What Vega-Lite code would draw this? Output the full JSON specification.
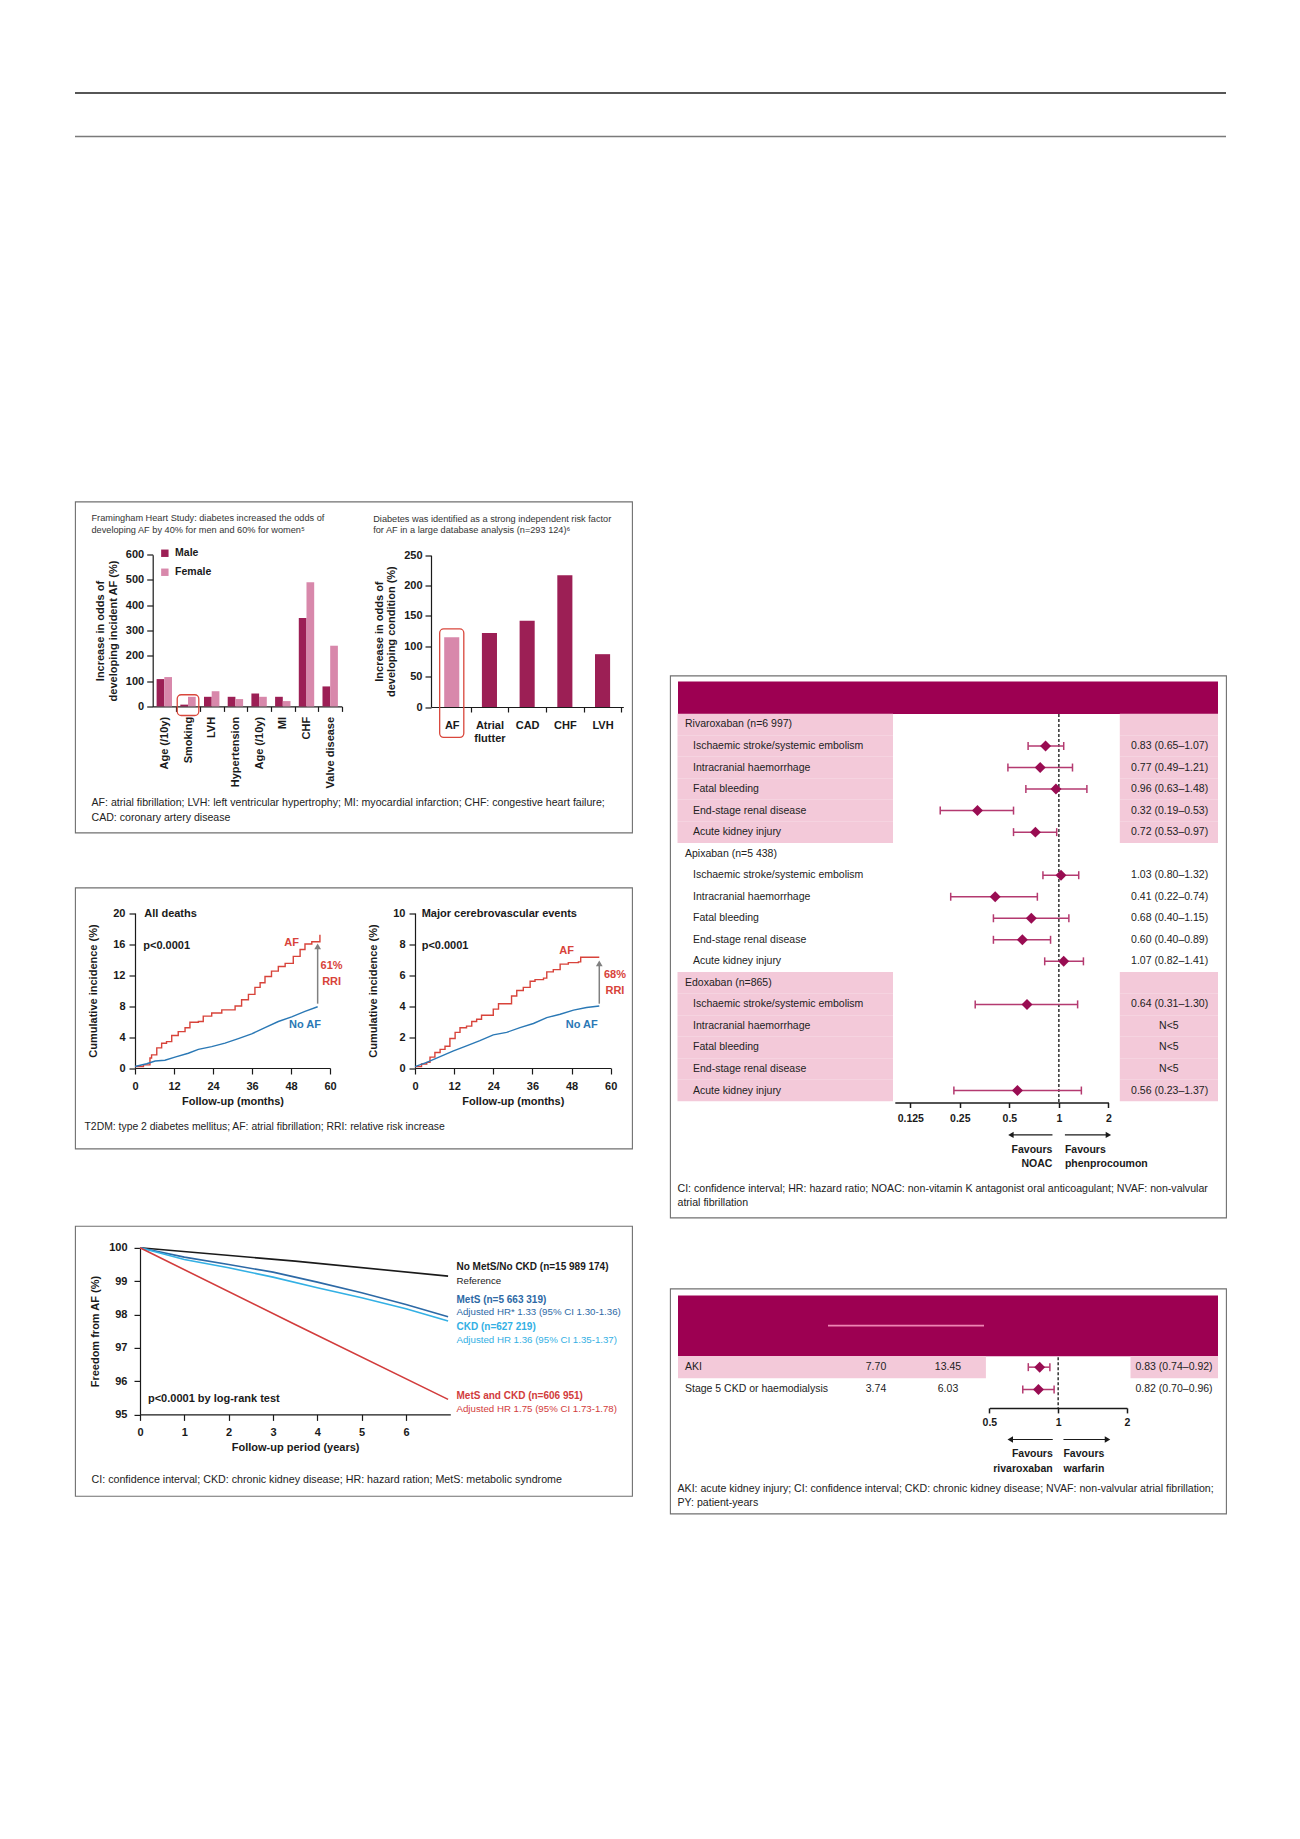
{
"$schema": "https://vega.github.io/schema/vega-lite/v6.json",
"background": "white",
"padding": {"left": 74, "top": 92, "right": 0, "bottom": 0},
"config": {
  "font": "Liberation Sans",
  "view": {"stroke": "#707070", "strokeWidth": 1.1},
  "axis": {"grid": false, "labelFlush": false, "labelOverlap": false, "domainColor": "#1a1a1a", "tickColor": "#1a1a1a", "labelColor": "#1a1a1a", "titleColor": "#1a1a1a", "labelFont": "Liberation Sans", "titleFont": "Liberation Sans", "labelFontWeight": "bold", "labelFontSize": 11, "titleFontWeight": "bold", "titleFontSize": 11, "domainWidth": 1.2, "tickWidth": 1.2, "tickSize": 5, "labelPadding": 4},
  "text": {"fontSize": 10.5, "color": "#1a1a1a", "font": "Liberation Sans"}
},
"datasets": {
  "header_rules": [{"rule": "top"}, {"rule": "bottom"}],
  "framingham": [
    {"factor": "Age (/10y)", "sex": "Male", "pct": 108},
    {"factor": "Age (/10y)", "sex": "Female", "pct": 116},
    {"factor": "Smoking", "sex": "Male", "pct": 7},
    {"factor": "Smoking", "sex": "Female", "pct": 38},
    {"factor": "LVH", "sex": "Male", "pct": 38},
    {"factor": "LVH", "sex": "Female", "pct": 60},
    {"factor": "Hypertension", "sex": "Male", "pct": 38},
    {"factor": "Hypertension", "sex": "Female", "pct": 29},
    {"factor": "Age (/10y)#2", "sex": "Male", "pct": 51},
    {"factor": "Age (/10y)#2", "sex": "Female", "pct": 38},
    {"factor": "MI", "sex": "Male", "pct": 38},
    {"factor": "MI", "sex": "Female", "pct": 21},
    {"factor": "CHF", "sex": "Male", "pct": 350},
    {"factor": "CHF", "sex": "Female", "pct": 491},
    {"factor": "Valve disease", "sex": "Male", "pct": 79},
    {"factor": "Valve disease", "sex": "Female", "pct": 240}
  ],
  "framingham_highlight": [{"factor": "Smoking", "top": 46, "bottom": -36}],
  "database": [
    {"condition": "AF", "pct": 115},
    {"condition": "Atrial flutter", "pct": 122},
    {"condition": "CAD", "pct": 142},
    {"condition": "CHF", "pct": 217},
    {"condition": "LVH", "pct": 87}
  ],
  "database_highlight": [{"condition": "AF", "top": 128.6, "bottom": -50}],
  "km": [
    {"outcome": "All deaths", "group": "AF", "month": 0, "pct": 0.2},
    {"outcome": "All deaths", "group": "AF", "month": 2.6, "pct": 0.4},
    {"outcome": "All deaths", "group": "AF", "month": 4.6, "pct": 1.3},
    {"outcome": "All deaths", "group": "AF", "month": 5.1, "pct": 1.7},
    {"outcome": "All deaths", "group": "AF", "month": 6.7, "pct": 2.6},
    {"outcome": "All deaths", "group": "AF", "month": 8.2, "pct": 3.2},
    {"outcome": "All deaths", "group": "AF", "month": 9.7, "pct": 3.4},
    {"outcome": "All deaths", "group": "AF", "month": 11.3, "pct": 4.2},
    {"outcome": "All deaths", "group": "AF", "month": 13.3, "pct": 4.7},
    {"outcome": "All deaths", "group": "AF", "month": 15.4, "pct": 5.2},
    {"outcome": "All deaths", "group": "AF", "month": 16.9, "pct": 5.9},
    {"outcome": "All deaths", "group": "AF", "month": 19.5, "pct": 6.0},
    {"outcome": "All deaths", "group": "AF", "month": 21, "pct": 6.7},
    {"outcome": "All deaths", "group": "AF", "month": 23.6, "pct": 7.1},
    {"outcome": "All deaths", "group": "AF", "month": 26.7, "pct": 7.5},
    {"outcome": "All deaths", "group": "AF", "month": 30.8, "pct": 8.0},
    {"outcome": "All deaths", "group": "AF", "month": 32.8, "pct": 8.8},
    {"outcome": "All deaths", "group": "AF", "month": 34.9, "pct": 9.5},
    {"outcome": "All deaths", "group": "AF", "month": 36.9, "pct": 10.4},
    {"outcome": "All deaths", "group": "AF", "month": 38.5, "pct": 11.0},
    {"outcome": "All deaths", "group": "AF", "month": 40, "pct": 11.8},
    {"outcome": "All deaths", "group": "AF", "month": 42, "pct": 12.5},
    {"outcome": "All deaths", "group": "AF", "month": 44.1, "pct": 13.1},
    {"outcome": "All deaths", "group": "AF", "month": 46.2, "pct": 13.5},
    {"outcome": "All deaths", "group": "AF", "month": 48.7, "pct": 14.4},
    {"outcome": "All deaths", "group": "AF", "month": 50.8, "pct": 15.3},
    {"outcome": "All deaths", "group": "AF", "month": 52.3, "pct": 16.0},
    {"outcome": "All deaths", "group": "AF", "month": 54.4, "pct": 16.3},
    {"outcome": "All deaths", "group": "AF", "month": 56.9, "pct": 17.2},
    {"outcome": "All deaths", "group": "No AF", "month": 0, "pct": 0.2},
    {"outcome": "All deaths", "group": "No AF", "month": 3.6, "pct": 0.55},
    {"outcome": "All deaths", "group": "No AF", "month": 6.2, "pct": 0.9},
    {"outcome": "All deaths", "group": "No AF", "month": 9.2, "pct": 1.0},
    {"outcome": "All deaths", "group": "No AF", "month": 12.3, "pct": 1.4},
    {"outcome": "All deaths", "group": "No AF", "month": 16.4, "pct": 1.9},
    {"outcome": "All deaths", "group": "No AF", "month": 19.5, "pct": 2.4},
    {"outcome": "All deaths", "group": "No AF", "month": 23.6, "pct": 2.75},
    {"outcome": "All deaths", "group": "No AF", "month": 27.7, "pct": 3.2},
    {"outcome": "All deaths", "group": "No AF", "month": 31.8, "pct": 3.8},
    {"outcome": "All deaths", "group": "No AF", "month": 35.9, "pct": 4.4},
    {"outcome": "All deaths", "group": "No AF", "month": 40, "pct": 5.2},
    {"outcome": "All deaths", "group": "No AF", "month": 44.1, "pct": 6.0},
    {"outcome": "All deaths", "group": "No AF", "month": 48.2, "pct": 6.6},
    {"outcome": "All deaths", "group": "No AF", "month": 52.3, "pct": 7.3},
    {"outcome": "All deaths", "group": "No AF", "month": 56.2, "pct": 7.9},
    {"outcome": "Major cerebrovascular events", "group": "AF", "month": 0, "pct": 0.09},
    {"outcome": "Major cerebrovascular events", "group": "AF", "month": 2, "pct": 0.26},
    {"outcome": "Major cerebrovascular events", "group": "AF", "month": 3.6, "pct": 0.36},
    {"outcome": "Major cerebrovascular events", "group": "AF", "month": 4.6, "pct": 0.7},
    {"outcome": "Major cerebrovascular events", "group": "AF", "month": 6.1, "pct": 1.0},
    {"outcome": "Major cerebrovascular events", "group": "AF", "month": 7.7, "pct": 1.2},
    {"outcome": "Major cerebrovascular events", "group": "AF", "month": 9.2, "pct": 1.4},
    {"outcome": "Major cerebrovascular events", "group": "AF", "month": 10.7, "pct": 1.9},
    {"outcome": "Major cerebrovascular events", "group": "AF", "month": 12.3, "pct": 2.3},
    {"outcome": "Major cerebrovascular events", "group": "AF", "month": 13.8, "pct": 2.6},
    {"outcome": "Major cerebrovascular events", "group": "AF", "month": 15.8, "pct": 2.7},
    {"outcome": "Major cerebrovascular events", "group": "AF", "month": 17.4, "pct": 3.0},
    {"outcome": "Major cerebrovascular events", "group": "AF", "month": 18.9, "pct": 3.15},
    {"outcome": "Major cerebrovascular events", "group": "AF", "month": 20.4, "pct": 3.4},
    {"outcome": "Major cerebrovascular events", "group": "AF", "month": 24, "pct": 3.8},
    {"outcome": "Major cerebrovascular events", "group": "AF", "month": 25.6, "pct": 4.15},
    {"outcome": "Major cerebrovascular events", "group": "AF", "month": 29.6, "pct": 4.65},
    {"outcome": "Major cerebrovascular events", "group": "AF", "month": 31.2, "pct": 5.0},
    {"outcome": "Major cerebrovascular events", "group": "AF", "month": 33.2, "pct": 5.2},
    {"outcome": "Major cerebrovascular events", "group": "AF", "month": 35.3, "pct": 5.6},
    {"outcome": "Major cerebrovascular events", "group": "AF", "month": 36.8, "pct": 5.7},
    {"outcome": "Major cerebrovascular events", "group": "AF", "month": 39.4, "pct": 5.8},
    {"outcome": "Major cerebrovascular events", "group": "AF", "month": 40.4, "pct": 6.2},
    {"outcome": "Major cerebrovascular events", "group": "AF", "month": 42.4, "pct": 6.35},
    {"outcome": "Major cerebrovascular events", "group": "AF", "month": 44.5, "pct": 6.7},
    {"outcome": "Major cerebrovascular events", "group": "AF", "month": 47, "pct": 6.8},
    {"outcome": "Major cerebrovascular events", "group": "AF", "month": 50.1, "pct": 6.85},
    {"outcome": "Major cerebrovascular events", "group": "AF", "month": 50.8, "pct": 7.15},
    {"outcome": "Major cerebrovascular events", "group": "AF", "month": 56.5, "pct": 7.15},
    {"outcome": "Major cerebrovascular events", "group": "No AF", "month": 0, "pct": 0.09},
    {"outcome": "Major cerebrovascular events", "group": "No AF", "month": 3.6, "pct": 0.36},
    {"outcome": "Major cerebrovascular events", "group": "No AF", "month": 7.7, "pct": 0.73},
    {"outcome": "Major cerebrovascular events", "group": "No AF", "month": 11.8, "pct": 1.1},
    {"outcome": "Major cerebrovascular events", "group": "No AF", "month": 15.8, "pct": 1.43},
    {"outcome": "Major cerebrovascular events", "group": "No AF", "month": 19.9, "pct": 1.76},
    {"outcome": "Major cerebrovascular events", "group": "No AF", "month": 24, "pct": 2.14},
    {"outcome": "Major cerebrovascular events", "group": "No AF", "month": 28.1, "pct": 2.3},
    {"outcome": "Major cerebrovascular events", "group": "No AF", "month": 32.2, "pct": 2.6},
    {"outcome": "Major cerebrovascular events", "group": "No AF", "month": 36.3, "pct": 2.87},
    {"outcome": "Major cerebrovascular events", "group": "No AF", "month": 40.4, "pct": 3.25},
    {"outcome": "Major cerebrovascular events", "group": "No AF", "month": 44.5, "pct": 3.47},
    {"outcome": "Major cerebrovascular events", "group": "No AF", "month": 48.6, "pct": 3.73},
    {"outcome": "Major cerebrovascular events", "group": "No AF", "month": 52.6, "pct": 3.9},
    {"outcome": "Major cerebrovascular events", "group": "No AF", "month": 56.5, "pct": 4.0}
  ],
  "km_text": [
    {"outcome": "All deaths", "text": "All deaths", "role": "heading", "month": 2.86, "pct": 19.9},
    {"outcome": "All deaths", "text": "p<0.0001", "role": "heading", "month": 2.55, "pct": 15.8},
    {"outcome": "All deaths", "text": "AF", "role": "AF", "month": 48.2, "pct": 16.1},
    {"outcome": "All deaths", "text": "No AF", "role": "No AF", "month": 52.3, "pct": 5.5},
    {"outcome": "All deaths", "text": "61%", "role": "AF", "month": 60.5, "pct": 13.2},
    {"outcome": "All deaths", "text": "RRI", "role": "AF", "month": 60.5, "pct": 11.1},
    {"outcome": "Major cerebrovascular events", "text": "Major cerebrovascular events", "role": "heading", "month": 2.05, "pct": 9.92},
    {"outcome": "Major cerebrovascular events", "text": "p<0.0001", "role": "heading", "month": 2.05, "pct": 7.87},
    {"outcome": "Major cerebrovascular events", "text": "AF", "role": "AF", "month": 46.5, "pct": 7.57},
    {"outcome": "Major cerebrovascular events", "text": "No AF", "role": "No AF", "month": 51.1, "pct": 2.8},
    {"outcome": "Major cerebrovascular events", "text": "68%", "role": "AF", "month": 61.3, "pct": 6.0},
    {"outcome": "Major cerebrovascular events", "text": "RRI", "role": "AF", "month": 61.3, "pct": 5.0}
  ],
  "km_arrow": [
    {"outcome": "All deaths", "month": 56.2, "from": 8.3, "to": 15.7},
    {"outcome": "Major cerebrovascular events", "month": 56.5, "from": 4.15, "to": 6.75}
  ],
  "mets": [
    {"series": "No MetS/No CKD", "year": 0, "pct": 100},
    {"series": "No MetS/No CKD", "year": 3.5, "pct": 99.6},
    {"series": "No MetS/No CKD", "year": 6.95, "pct": 99.15},
    {"series": "MetS", "year": 0, "pct": 100},
    {"series": "MetS", "year": 1, "pct": 99.72},
    {"series": "MetS", "year": 2, "pct": 99.5},
    {"series": "MetS", "year": 3, "pct": 99.27},
    {"series": "MetS", "year": 4, "pct": 98.97},
    {"series": "MetS", "year": 5, "pct": 98.65},
    {"series": "MetS", "year": 6, "pct": 98.3},
    {"series": "MetS", "year": 6.95, "pct": 97.93},
    {"series": "CKD", "year": 0, "pct": 100},
    {"series": "CKD", "year": 1, "pct": 99.65},
    {"series": "CKD", "year": 2, "pct": 99.4},
    {"series": "CKD", "year": 3, "pct": 99.12},
    {"series": "CKD", "year": 4, "pct": 98.8},
    {"series": "CKD", "year": 5, "pct": 98.5},
    {"series": "CKD", "year": 6, "pct": 98.17},
    {"series": "CKD", "year": 6.95, "pct": 97.8},
    {"series": "MetS and CKD", "year": 0, "pct": 100},
    {"series": "MetS and CKD", "year": 3.5, "pct": 97.7},
    {"series": "MetS and CKD", "year": 6.95, "pct": 95.45}
  ],
  "mets_text": [
    {"series": "No MetS/No CKD", "line": 1, "text": "No MetS/No CKD (n=15 989 174)", "year": 7.14, "pct": 99.41},
    {"series": "No MetS/No CKD", "line": 2, "text": "Reference", "year": 7.14, "pct": 99.01},
    {"series": "MetS", "line": 1, "text": "MetS (n=5 663 319)", "year": 7.14, "pct": 98.44},
    {"series": "MetS", "line": 2, "text": "Adjusted HR* 1.33 (95% CI 1.30-1.36)", "year": 7.14, "pct": 98.06},
    {"series": "CKD", "line": 1, "text": "CKD (n=627 219)", "year": 7.14, "pct": 97.61},
    {"series": "CKD", "line": 2, "text": "Adjusted HR 1.36 (95% CI 1.35-1.37)", "year": 7.14, "pct": 97.23},
    {"series": "MetS and CKD", "line": 1, "text": "MetS and CKD (n=606 951)", "year": 7.14, "pct": 95.56},
    {"series": "MetS and CKD", "line": 2, "text": "Adjusted HR 1.75 (95% CI 1.73-1.78)", "year": 7.14, "pct": 95.16}
  ],
  "mets_p": [{"text": "p<0.0001 by log-rank test", "year": 0.18, "pct": 95.45}],
  "table_parts": [{"part": "title bar"}],
  "underline": [{"part": "column group rule"}],
  "ref1": [{"hr": 1}],
  "forest": [
    {"row": "r01", "drug": "Rivaroxaban", "kind": "group", "label": "Rivaroxaban (n=6 997)"},
    {"row": "r02", "drug": "Rivaroxaban", "kind": "outcome", "label": "Ischaemic stroke/systemic embolism", "hr": 0.83, "lo": 0.65, "hi": 1.07, "ci": "0.83 (0.65–1.07)"},
    {"row": "r03", "drug": "Rivaroxaban", "kind": "outcome", "label": "Intracranial haemorrhage", "hr": 0.77, "lo": 0.49, "hi": 1.21, "ci": "0.77 (0.49–1.21)"},
    {"row": "r04", "drug": "Rivaroxaban", "kind": "outcome", "label": "Fatal bleeding", "hr": 0.96, "lo": 0.63, "hi": 1.48, "ci": "0.96 (0.63–1.48)"},
    {"row": "r05", "drug": "Rivaroxaban", "kind": "outcome", "label": "End-stage renal disease", "hr": 0.32, "lo": 0.19, "hi": 0.53, "ci": "0.32 (0.19–0.53)"},
    {"row": "r06", "drug": "Rivaroxaban", "kind": "outcome", "label": "Acute kidney injury", "hr": 0.72, "lo": 0.53, "hi": 0.97, "ci": "0.72 (0.53–0.97)"},
    {"row": "r07", "drug": "Apixaban", "kind": "group", "label": "Apixaban (n=5 438)"},
    {"row": "r08", "drug": "Apixaban", "kind": "outcome", "label": "Ischaemic stroke/systemic embolism", "hr": 1.03, "lo": 0.80, "hi": 1.32, "ci": "1.03 (0.80–1.32)"},
    {"row": "r09", "drug": "Apixaban", "kind": "outcome", "label": "Intracranial haemorrhage", "hr": 0.41, "lo": 0.22, "hi": 0.74, "ci": "0.41 (0.22–0.74)"},
    {"row": "r10", "drug": "Apixaban", "kind": "outcome", "label": "Fatal bleeding", "hr": 0.68, "lo": 0.40, "hi": 1.15, "ci": "0.68 (0.40–1.15)"},
    {"row": "r11", "drug": "Apixaban", "kind": "outcome", "label": "End-stage renal disease", "hr": 0.60, "lo": 0.40, "hi": 0.89, "ci": "0.60 (0.40–0.89)"},
    {"row": "r12", "drug": "Apixaban", "kind": "outcome", "label": "Acute kidney injury", "hr": 1.07, "lo": 0.82, "hi": 1.41, "ci": "1.07 (0.82–1.41)"},
    {"row": "r13", "drug": "Edoxaban", "kind": "group", "label": "Edoxaban (n=865)"},
    {"row": "r14", "drug": "Edoxaban", "kind": "outcome", "label": "Ischaemic stroke/systemic embolism", "hr": 0.64, "lo": 0.31, "hi": 1.30, "ci": "0.64 (0.31–1.30)"},
    {"row": "r15", "drug": "Edoxaban", "kind": "outcome", "label": "Intracranial haemorrhage", "ci": "N<5"},
    {"row": "r16", "drug": "Edoxaban", "kind": "outcome", "label": "Fatal bleeding", "ci": "N<5"},
    {"row": "r17", "drug": "Edoxaban", "kind": "outcome", "label": "End-stage renal disease", "ci": "N<5"},
    {"row": "r18", "drug": "Edoxaban", "kind": "outcome", "label": "Acute kidney injury", "hr": 0.56, "lo": 0.23, "hi": 1.37, "ci": "0.56 (0.23–1.37)"}
  ],
  "favours_noac": [
    {"line1": "Favours", "line2": "NOAC", "from": 0.914, "to": 0.511},
    {"line1": "Favours", "line2": "phenprocoumon", "from": 1.088, "to": 2.0}
  ],
  "riva_warf": [
    {"row": "AKI", "label": "AKI", "Rivaroxaban": 7.70, "Warfarin": 13.45, "hr": 0.83, "lo": 0.74, "hi": 0.92, "ci": "0.83 (0.74–0.92)"},
    {"row": "Stage 5 CKD or haemodialysis", "label": "Stage 5 CKD or haemodialysis", "Rivaroxaban": 3.74, "Warfarin": 6.03, "hr": 0.82, "lo": 0.70, "hi": 0.96, "ci": "0.82 (0.70–0.96)"}
  ],
  "favours_warf": [
    {"line1": "Favours", "line2": "rivaroxaban", "from": 0.947, "to": 0.617},
    {"line1": "Favours", "line2": "warfarin", "from": 1.055, "to": 1.645}
  ]
},
"spacing": 362.5,
"vconcat": [
  {
    "width": 1151, "height": 43.5, "view": {"stroke": null},
    "data": {"name": "header_rules"},
    "mark": {"type": "rule", "strokeWidth": 1.3},
    "encoding": {
      "y": {"field": "rule", "type": "nominal", "scale": {"type": "point", "domain": ["top", "bottom"], "range": [0, 43.5], "padding": 0}, "axis": null},
      "color": {"field": "rule", "type": "nominal", "scale": {"domain": ["top", "bottom"], "range": ["#1e1e1e", "#7a7a7a"]}, "legend": null}
    }
  },
  {
    "hconcat": [
      {
        "vconcat": [
          {
            "vconcat": [
              {
                "width": 557, "height": 331,
                "resolve": {"scale": {"x": "independent", "y": "independent", "color": "independent"}, "axis": {"x": "independent", "y": "independent"}, "legend": {"color": "independent"}},
                "layer": [
                  {
                    "data": {"name": "framingham"},
                    "mark": {"type": "bar"},
                    "encoding": {
                      "x": {"field": "factor", "type": "nominal",
                        "scale": {"type": "band", "domain": ["Age (/10y)", "Smoking", "LVH", "Hypertension", "Age (/10y)#2", "MI", "CHF", "Valve disease"], "range": [77.7, 266.8], "paddingInner": 0.35, "paddingOuter": 0.165},
                        "axis": {"orient": "bottom", "offset": -126.1, "labelAngle": -90, "labelAlign": "right", "labelBaseline": "middle", "labelPadding": 5, "tickSize": 5, "bandPosition": 1, "tickOffset": 4.15, "labelOffset": -4.15, "labelExpr": "replace(datum.label, '#2', '')",
                          "title": ["AF: atrial fibrillation; LVH: left ventricular hypertrophy; MI: myocardial infarction; CHF: congestive heart failure;", "CAD: coronary artery disease"],
                          "titleX": 16, "titleY": 99.2, "titleAlign": "left", "titleAngle": 0, "titleBaseline": "alphabetic", "titleFontWeight": "normal", "titleFontSize": 10.6, "titleLineHeight": 15, "titleColor": "#222222"}},
                      "xOffset": {"field": "sex", "type": "nominal", "scale": {"domain": ["Male", "Female"]}},
                      "y": {"field": "pct", "type": "quantitative", "stack": null,
                        "scale": {"domain": [0, 600], "range": [204.9, 53.2], "nice": false},
                        "axis": {"orient": "left", "offset": -77.7, "values": [0, 100, 200, 300, 400, 500, 600], "tickSize": 6, "labelPadding": 3, "title": ["Increase in odds of", "developing incident AF (%)"], "titlePadding": 7, "titleLineHeight": 12.5}},
                      "color": {"field": "sex", "type": "nominal", "scale": {"domain": ["Male", "Female"], "range": ["#9c1f55", "#d888ab"]},
                        "legend": {"orient": "none", "legendX": 84.6, "legendY": 46.5, "title": null, "symbolType": "square", "symbolSize": 55, "labelFontSize": 10.5, "labelFontWeight": "bold", "labelColor": "#1a1a1a", "rowPadding": 8, "labelOffset": 5, "padding": 0}}
                    }
                  },
                  {
                    "data": {"name": "framingham_highlight"},
                    "mark": {"type": "bar", "width": {"band": 1.4}, "fill": "transparent", "stroke": "#d9473c", "strokeWidth": 1.3, "cornerRadius": 4},
                    "encoding": {
                      "x": {"field": "factor", "type": "nominal",
                        "scale": {"type": "band", "domain": ["Age (/10y)", "Smoking", "LVH", "Hypertension", "Age (/10y)#2", "MI", "CHF", "Valve disease"], "range": [77.7, 266.8], "paddingInner": 0.35, "paddingOuter": 0.165},
                        "axis": {"orient": "top", "domain": false, "ticks": false, "labels": false,
                          "title": ["Framingham Heart Study: diabetes increased the odds of", "developing AF by 40% for men and 60% for women⁵"],
                          "titleX": 16, "titleY": 19, "titleAlign": "left", "titleAngle": 0, "titleBaseline": "alphabetic", "titleFontWeight": "normal", "titleFontSize": 9.2, "titleLineHeight": 11.5, "titleColor": "#333333"}},
                      "y": {"field": "top", "type": "quantitative", "scale": {"domain": [0, 600], "range": [204.9, 53.2], "nice": false}, "axis": null},
                      "y2": {"field": "bottom"}
                    }
                  },
                  {
                    "data": {"name": "database"},
                    "mark": {"type": "bar"},
                    "encoding": {
                      "x": {"field": "condition", "type": "nominal",
                        "scale": {"type": "band", "domain": ["AF", "Atrial flutter", "CAD", "CHF", "LVH"], "range": [356, 548.3], "paddingInner": 0.6, "paddingOuter": 0.35},
                        "axis": {"orient": "bottom", "offset": -125.5, "labelAngle": 0, "labelAlign": "center", "labelBaseline": "top", "labelPadding": 7, "tickSize": 5, "bandPosition": 1, "tickOffset": 11.3, "labelOffset": -11.3, "labelLineHeight": 13,
                          "labelExpr": "datum.label == 'Atrial flutter' ? ['Atrial', 'flutter'] : datum.label", "title": null}},
                      "y": {"field": "pct", "type": "quantitative",
                        "scale": {"domain": [0, 250], "range": [205.5, 53.7], "nice": false},
                        "axis": {"orient": "left", "offset": -356, "values": [0, 50, 100, 150, 200, 250], "tickSize": 6, "labelPadding": 3, "title": ["Increase in odds of", "developing condition (%)"], "titlePadding": 7, "titleLineHeight": 12.5}},
                      "color": {"field": "condition", "type": "nominal", "scale": {"domain": ["AF", "Atrial flutter", "CAD", "CHF", "LVH"], "range": ["#d888ab", "#9c1f55", "#9c1f55", "#9c1f55", "#9c1f55"]}, "legend": null}
                    }
                  },
                  {
                    "data": {"name": "database_highlight"},
                    "mark": {"type": "bar", "width": {"band": 1.6}, "fill": "transparent", "stroke": "#d9473c", "strokeWidth": 1.3, "cornerRadius": 4},
                    "encoding": {
                      "x": {"field": "condition", "type": "nominal",
                        "scale": {"type": "band", "domain": ["AF", "Atrial flutter", "CAD", "CHF", "LVH"], "range": [356, 548.3], "paddingInner": 0.6, "paddingOuter": 0.35},
                        "axis": {"orient": "top", "domain": false, "ticks": false, "labels": false,
                          "title": ["Diabetes was identified as a strong independent risk factor", "for AF in a large database analysis (n=293 124)⁶"],
                          "titleX": 297.7, "titleY": 19.5, "titleAlign": "left", "titleAngle": 0, "titleBaseline": "alphabetic", "titleFontWeight": "normal", "titleFontSize": 9.2, "titleLineHeight": 11.5, "titleColor": "#333333"}},
                      "y": {"field": "top", "type": "quantitative", "scale": {"domain": [0, 250], "range": [205.5, 53.7], "nice": false}, "axis": null},
                      "y2": {"field": "bottom"}
                    }
                  }
                ]
              },
              {
                "width": 557, "height": 261,
                "resolve": {"scale": {"x": "independent", "y": "independent", "color": "independent"}, "axis": {"x": "independent", "y": "independent"}},
                "layer": [
                  {
                    "data": {"name": "km"},
                    "transform": [{"filter": "datum.outcome == 'All deaths' && datum.group == 'AF'"}],
                    "mark": {"type": "line", "interpolate": "step-after", "strokeWidth": 1.4, "color": "#d8433a"},
                    "encoding": {
                      "x": {"field": "month", "type": "quantitative", "scale": {"domain": [0, 60], "range": [60, 255], "nice": false, "zero": false},
                        "axis": {"orient": "bottom", "offset": -80.5, "values": [0, 12, 24, 36, 48, 60], "tickSize": 6, "labelPadding": 6, "title": "Follow-up (months)", "titlePadding": 4}},
                      "y": {"field": "pct", "type": "quantitative", "scale": {"domain": [0, 20], "range": [180.5, 25.5], "nice": false, "zero": false},
                        "axis": {"orient": "left", "offset": -60, "values": [0, 4, 8, 12, 16, 20], "tickSize": 6, "labelPadding": 4, "title": "Cumulative incidence (%)", "titlePadding": 14}}
                    }
                  },
                  {
                    "data": {"name": "km"},
                    "transform": [{"filter": "datum.outcome == 'All deaths' && datum.group == 'No AF'"}],
                    "mark": {"type": "line", "strokeWidth": 1.4, "color": "#2a78b5"},
                    "encoding": {
                      "x": {"field": "month", "type": "quantitative", "scale": {"domain": [0, 60], "range": [60, 255], "nice": false, "zero": false}, "axis": null},
                      "y": {"field": "pct", "type": "quantitative", "scale": {"domain": [0, 20], "range": [180.5, 25.5], "nice": false, "zero": false}, "axis": null}
                    }
                  },
                  {
                    "data": {"name": "km_text"},
                    "transform": [{"filter": "datum.outcome == 'All deaths'"}],
                    "mark": {"type": "text", "fontWeight": "bold", "fontSize": 11, "baseline": "middle", "align": {"expr": "datum.role == 'heading' ? 'left' : 'center'"}},
                    "encoding": {
                      "x": {"field": "month", "type": "quantitative", "scale": {"domain": [0, 60], "range": [60, 255], "nice": false, "zero": false},
                        "axis": {"orient": "bottom", "domain": false, "ticks": false, "labels": false, "title": "T2DM: type 2 diabetes mellitus; AF: atrial fibrillation; RRI: relative risk increase",
                          "titleX": 9, "titleY": -19.5, "titleAlign": "left", "titleAngle": 0, "titleBaseline": "alphabetic", "titleFontWeight": "normal", "titleFontSize": 10.4, "titleColor": "#222222"}},
                      "y": {"field": "pct", "type": "quantitative", "scale": {"domain": [0, 20], "range": [180.5, 25.5], "nice": false, "zero": false}, "axis": null},
                      "text": {"field": "text"},
                      "color": {"field": "role", "type": "nominal", "scale": {"domain": ["heading", "AF", "No AF"], "range": ["#1a1a1a", "#d8433a", "#2a78b5"]}, "legend": null}
                    }
                  },
                  {
                    "data": {"name": "km_arrow"},
                    "transform": [{"filter": "datum.outcome == 'All deaths'"}],
                    "encoding": {"x": {"field": "month", "type": "quantitative", "scale": {"domain": [0, 60], "range": [60, 255], "nice": false, "zero": false}, "axis": null}},
                    "layer": [
                      {"mark": {"type": "rule", "color": "#808080", "strokeWidth": 1.5},
                       "encoding": {"y": {"field": "from", "type": "quantitative", "scale": {"domain": [0, 20], "range": [180.5, 25.5], "nice": false, "zero": false}, "axis": null}, "y2": {"field": "to"}}},
                      {"mark": {"type": "point", "shape": "triangle-up", "filled": true, "size": 45, "color": "#808080", "opacity": 1},
                       "encoding": {"y": {"field": "to", "type": "quantitative", "scale": {"domain": [0, 20], "range": [180.5, 25.5], "nice": false, "zero": false}, "axis": null}}}
                    ]
                  },
                  {
                    "data": {"name": "km"},
                    "transform": [{"filter": "datum.outcome == 'Major cerebrovascular events' && datum.group == 'AF'"}],
                    "mark": {"type": "line", "interpolate": "step-after", "strokeWidth": 1.4, "color": "#d8433a"},
                    "encoding": {
                      "x": {"field": "month", "type": "quantitative", "scale": {"domain": [0, 60], "range": [340, 535.7], "nice": false, "zero": false},
                        "axis": {"orient": "bottom", "offset": -80.5, "values": [0, 12, 24, 36, 48, 60], "tickSize": 6, "labelPadding": 6, "title": "Follow-up (months)", "titlePadding": 4}},
                      "y": {"field": "pct", "type": "quantitative", "scale": {"domain": [0, 10], "range": [180.5, 25.5], "nice": false, "zero": false},
                        "axis": {"orient": "left", "offset": -340, "values": [0, 2, 4, 6, 8, 10], "tickSize": 6, "labelPadding": 4, "title": "Cumulative incidence (%)", "titlePadding": 14}}
                    }
                  },
                  {
                    "data": {"name": "km"},
                    "transform": [{"filter": "datum.outcome == 'Major cerebrovascular events' && datum.group == 'No AF'"}],
                    "mark": {"type": "line", "strokeWidth": 1.4, "color": "#2a78b5"},
                    "encoding": {
                      "x": {"field": "month", "type": "quantitative", "scale": {"domain": [0, 60], "range": [340, 535.7], "nice": false, "zero": false}, "axis": null},
                      "y": {"field": "pct", "type": "quantitative", "scale": {"domain": [0, 10], "range": [180.5, 25.5], "nice": false, "zero": false}, "axis": null}
                    }
                  },
                  {
                    "data": {"name": "km_text"},
                    "transform": [{"filter": "datum.outcome == 'Major cerebrovascular events'"}],
                    "mark": {"type": "text", "fontWeight": "bold", "fontSize": 11, "baseline": "middle", "align": {"expr": "datum.role == 'heading' ? 'left' : 'center'"}},
                    "encoding": {
                      "x": {"field": "month", "type": "quantitative", "scale": {"domain": [0, 60], "range": [340, 535.7], "nice": false, "zero": false}, "axis": null},
                      "y": {"field": "pct", "type": "quantitative", "scale": {"domain": [0, 10], "range": [180.5, 25.5], "nice": false, "zero": false}, "axis": null},
                      "text": {"field": "text"},
                      "color": {"field": "role", "type": "nominal", "scale": {"domain": ["heading", "AF", "No AF"], "range": ["#1a1a1a", "#d8433a", "#2a78b5"]}, "legend": null}
                    }
                  },
                  {
                    "data": {"name": "km_arrow"},
                    "transform": [{"filter": "datum.outcome == 'Major cerebrovascular events'"}],
                    "encoding": {"x": {"field": "month", "type": "quantitative", "scale": {"domain": [0, 60], "range": [340, 535.7], "nice": false, "zero": false}, "axis": null}},
                    "layer": [
                      {"mark": {"type": "rule", "color": "#808080", "strokeWidth": 1.5},
                       "encoding": {"y": {"field": "from", "type": "quantitative", "scale": {"domain": [0, 10], "range": [180.5, 25.5], "nice": false, "zero": false}, "axis": null}, "y2": {"field": "to"}}},
                      {"mark": {"type": "point", "shape": "triangle-up", "filled": true, "size": 45, "color": "#808080", "opacity": 1},
                       "encoding": {"y": {"field": "to", "type": "quantitative", "scale": {"domain": [0, 10], "range": [180.5, 25.5], "nice": false, "zero": false}, "axis": null}}}
                    ]
                  }
                ]
              }
            ],
            "spacing": 53
          },
          {
            "width": 557, "height": 270,
            "resolve": {"scale": {"x": "independent", "y": "independent", "color": "independent"}, "axis": {"x": "independent", "y": "independent"}},
            "layer": [
              {
                "data": {"name": "mets"},
                "mark": {"type": "line", "strokeWidth": 1.6},
                "encoding": {
                  "x": {"field": "year", "type": "quantitative", "scale": {"domain": [0, 7], "range": [65, 375.3], "nice": false, "zero": false},
                    "axis": {"orient": "bottom", "offset": -81.5, "values": [0, 1, 2, 3, 4, 5, 6], "tickSize": 6, "labelPadding": 6, "title": "Follow-up period (years)", "titlePadding": 4}},
                  "y": {"field": "pct", "type": "quantitative", "scale": {"domain": [95, 100], "range": [188.5, 21.9], "nice": false, "zero": false},
                    "axis": {"orient": "left", "offset": -65, "values": [95, 96, 97, 98, 99, 100], "tickSize": 6, "labelPadding": 7, "title": "Freedom from AF (%)", "titlePadding": 8}},
                  "color": {"field": "series", "type": "nominal", "scale": {"domain": ["No MetS/No CKD", "MetS", "CKD", "MetS and CKD"], "range": ["#1a1a1a", "#2d69a5", "#33b0e4", "#d23c3c"]}, "legend": null}
                }
              },
              {
                "data": {"name": "mets_text"},
                "mark": {"type": "text", "align": "left", "baseline": "middle", "fontWeight": {"expr": "datum.line == 1 ? 'bold' : 'normal'"}, "fontSize": {"expr": "datum.line == 1 ? 10 : 9.7"}},
                "encoding": {
                  "x": {"field": "year", "type": "quantitative", "scale": {"domain": [0, 7], "range": [65, 375.3], "nice": false, "zero": false},
                    "axis": {"orient": "bottom", "domain": false, "ticks": false, "labels": false, "title": "CI: confidence interval; CKD: chronic kidney disease; HR: hazard ration; MetS: metabolic syndrome",
                      "titleX": 16, "titleY": -13.7, "titleAlign": "left", "titleAngle": 0, "titleBaseline": "alphabetic", "titleFontWeight": "normal", "titleFontSize": 10.7, "titleColor": "#222222"}},
                  "y": {"field": "pct", "type": "quantitative", "scale": {"domain": [95, 100], "range": [188.5, 21.9], "nice": false, "zero": false}, "axis": null},
                  "text": {"field": "text"},
                  "color": {"field": "series", "type": "nominal", "scale": {"domain": ["No MetS/No CKD", "MetS", "CKD", "MetS and CKD"], "range": ["#1a1a1a", "#2d69a5", "#33b0e4", "#d23c3c"]}, "legend": null}
                }
              },
              {
                "data": {"name": "mets_p"},
                "mark": {"type": "text", "align": "left", "baseline": "middle", "fontWeight": "bold", "fontSize": 11, "color": "#1a1a1a"},
                "encoding": {
                  "x": {"field": "year", "type": "quantitative", "scale": {"domain": [0, 7], "range": [65, 375.3], "nice": false, "zero": false}, "axis": null},
                  "y": {"field": "pct", "type": "quantitative", "scale": {"domain": [95, 100], "range": [188.5, 21.9], "nice": false, "zero": false}, "axis": null},
                  "text": {"field": "text"}
                }
              }
            ]
          }
        ],
        "spacing": 75.4
      },
      {
        "vconcat": [
          {"width": 556, "height": 103.5, "view": {"stroke": null}, "data": {"values": []}, "mark": "point", "encoding": {}},
          {
            "width": 556, "height": 542,
            "resolve": {"scale": {"x": "independent", "y": "independent"}, "axis": {"x": "independent", "y": "independent"}},
            "layer": [
              {
                "data": {"name": "table_parts"},
                "mark": {"type": "rect", "fill": "#9d0052"},
                "encoding": {
                  "x": {"field": "part", "type": "nominal", "scale": {"type": "band", "domain": ["title bar"], "range": [8, 548], "paddingInner": 0, "paddingOuter": 0}, "axis": null},
                  "y": {"field": "part", "type": "nominal", "scale": {"type": "band", "domain": ["title bar"], "range": [6, 38.4], "paddingInner": 0, "paddingOuter": 0}, "axis": null}
                }
              },
              {
                "data": {"name": "forest"},
                "transform": [{"filter": "datum.drug != 'Apixaban'"}],
                "mark": {"type": "rect", "fill": "#f3c9d9"},
                "encoding": {
                  "x": {"datum": "Outcome", "type": "nominal", "scale": {"type": "band", "domain": ["Outcome"], "range": [7.5, 223], "paddingInner": 0, "paddingOuter": 0}, "axis": null},
                  "y": {"field": "row", "type": "nominal", "scale": {"type": "band", "domain": ["r01","r02","r03","r04","r05","r06","r07","r08","r09","r10","r11","r12","r13","r14","r15","r16","r17","r18"], "range": [38.2, 425.8], "paddingInner": 0, "paddingOuter": 0}, "axis": null}
                }
              },
              {
                "data": {"name": "forest"},
                "transform": [{"filter": "datum.drug != 'Apixaban'"}],
                "mark": {"type": "rect", "fill": "#f3c9d9"},
                "encoding": {
                  "x": {"datum": "HR (95% CI)", "type": "nominal", "scale": {"type": "band", "domain": ["HR (95% CI)"], "range": [449.8, 548], "paddingInner": 0, "paddingOuter": 0}, "axis": null},
                  "y": {"field": "row", "type": "nominal", "scale": {"type": "band", "domain": ["r01","r02","r03","r04","r05","r06","r07","r08","r09","r10","r11","r12","r13","r14","r15","r16","r17","r18"], "range": [38.2, 425.8], "paddingInner": 0, "paddingOuter": 0}, "axis": null}
                }
              },
              {
                "data": {"name": "forest"},
                "transform": [{"filter": "datum.kind == 'group'"}],
                "mark": {"type": "text", "align": "left", "baseline": "middle", "fontSize": 10.5, "color": "#222222"},
                "encoding": {
                  "x": {"datum": "Outcome", "type": "nominal", "bandPosition": 0.0348, "scale": {"type": "band", "domain": ["Outcome"], "range": [7.5, 223], "paddingInner": 0, "paddingOuter": 0}, "axis": null},
                  "y": {"field": "row", "type": "nominal", "scale": {"type": "band", "domain": ["r01","r02","r03","r04","r05","r06","r07","r08","r09","r10","r11","r12","r13","r14","r15","r16","r17","r18"], "range": [38.2, 425.8], "paddingInner": 0, "paddingOuter": 0}, "axis": null},
                  "text": {"field": "label"}
                }
              },
              {
                "data": {"name": "forest"},
                "transform": [{"filter": "datum.kind == 'outcome'"}],
                "mark": {"type": "text", "align": "left", "baseline": "middle", "fontSize": 10.5, "color": "#222222"},
                "encoding": {
                  "x": {"datum": "Outcome", "type": "nominal", "bandPosition": 0.0719, "scale": {"type": "band", "domain": ["Outcome"], "range": [7.5, 223], "paddingInner": 0, "paddingOuter": 0}, "axis": null},
                  "y": {"field": "row", "type": "nominal", "scale": {"type": "band", "domain": ["r01","r02","r03","r04","r05","r06","r07","r08","r09","r10","r11","r12","r13","r14","r15","r16","r17","r18"], "range": [38.2, 425.8], "paddingInner": 0, "paddingOuter": 0}, "axis": null},
                  "text": {"field": "label"}
                }
              },
              {
                "data": {"name": "ref1"},
                "mark": {"type": "rule", "strokeDash": [3, 2], "strokeWidth": 1.3, "color": "#111111"},
                "encoding": {
                  "x": {"field": "hr", "type": "quantitative", "scale": {"type": "log", "base": 2, "domain": [0.1006, 2], "range": [224.8, 438.4], "nice": false, "zero": false},
                    "axis": {"orient": "bottom", "offset": -115, "values": [0.125, 0.25, 0.5, 1, 2], "format": "~g", "labelFontSize": 10.5, "tickSize": 5, "labelPadding": 6, "title": null, "domainWidth": 1.5, "tickWidth": 1.5}},
                  "y": {"datum": 0, "type": "quantitative", "scale": {"domain": [0, 1], "range": [38.4, 427], "nice": false, "zero": false}, "axis": null},
                  "y2": {"datum": 1}
                }
              },
              {
                "data": {"name": "forest"},
                "transform": [{"filter": "isValid(datum.hr)"}],
                "mark": {"type": "rule", "strokeWidth": 1.5, "color": "#b43a70"},
                "encoding": {
                  "x": {"field": "lo", "type": "quantitative", "scale": {"type": "log", "base": 2, "domain": [0.1006, 2], "range": [224.8, 438.4], "nice": false, "zero": false}, "axis": null},
                  "x2": {"field": "hi"},
                  "y": {"field": "row", "type": "nominal", "scale": {"type": "band", "domain": ["r01","r02","r03","r04","r05","r06","r07","r08","r09","r10","r11","r12","r13","r14","r15","r16","r17","r18"], "range": [38.2, 425.8], "paddingInner": 0, "paddingOuter": 0}, "axis": null}
                }
              },
              {
                "data": {"name": "forest"},
                "transform": [{"filter": "isValid(datum.hr)"}, {"fold": ["lo", "hi"], "as": ["bound", "value"]}],
                "mark": {"type": "tick", "orient": "vertical", "size": 8, "thickness": 1.5, "color": "#b43a70", "opacity": 1},
                "encoding": {
                  "x": {"field": "value", "type": "quantitative", "scale": {"type": "log", "base": 2, "domain": [0.1006, 2], "range": [224.8, 438.4], "nice": false, "zero": false}, "axis": null},
                  "y": {"field": "row", "type": "nominal", "scale": {"type": "band", "domain": ["r01","r02","r03","r04","r05","r06","r07","r08","r09","r10","r11","r12","r13","r14","r15","r16","r17","r18"], "range": [38.2, 425.8], "paddingInner": 0, "paddingOuter": 0}, "axis": null}
                }
              },
              {
                "data": {"name": "forest"},
                "transform": [{"filter": "isValid(datum.hr)"}],
                "mark": {"type": "point", "shape": "diamond", "filled": true, "size": 120, "color": "#990c52", "opacity": 1},
                "encoding": {
                  "x": {"field": "hr", "type": "quantitative", "scale": {"type": "log", "base": 2, "domain": [0.1006, 2], "range": [224.8, 438.4], "nice": false, "zero": false}, "axis": null},
                  "y": {"field": "row", "type": "nominal", "scale": {"type": "band", "domain": ["r01","r02","r03","r04","r05","r06","r07","r08","r09","r10","r11","r12","r13","r14","r15","r16","r17","r18"], "range": [38.2, 425.8], "paddingInner": 0, "paddingOuter": 0}, "axis": null}
                }
              },
              {
                "data": {"name": "forest"},
                "transform": [{"filter": "isValid(datum.ci) && datum.ci != 'N<5'"}],
                "mark": {"type": "text", "align": "right", "baseline": "middle", "fontSize": 10.5, "color": "#222222"},
                "encoding": {
                  "x": {"datum": "HR (95% CI)", "type": "nominal", "bandPosition": 0.9, "scale": {"type": "band", "domain": ["HR (95% CI)"], "range": [449.8, 548], "paddingInner": 0, "paddingOuter": 0},
                    "axis": {"orient": "bottom", "domain": false, "ticks": false, "labels": false,
                      "title": ["CI: confidence interval; HR: hazard ratio; NOAC: non-vitamin K antagonist oral anticoagulant; NVAF: non-valvular", "atrial fibrillation"],
                      "titleX": 7, "titleY": -26.4, "titleAlign": "left", "titleAngle": 0, "titleBaseline": "alphabetic", "titleFontWeight": "normal", "titleFontSize": 10.6, "titleLineHeight": 14.7, "titleColor": "#222222"}},
                  "y": {"field": "row", "type": "nominal", "scale": {"type": "band", "domain": ["r01","r02","r03","r04","r05","r06","r07","r08","r09","r10","r11","r12","r13","r14","r15","r16","r17","r18"], "range": [38.2, 425.8], "paddingInner": 0, "paddingOuter": 0}, "axis": null},
                  "text": {"field": "ci"}
                }
              },
              {
                "data": {"name": "forest"},
                "transform": [{"filter": "datum.ci == 'N<5'"}],
                "mark": {"type": "text", "align": "center", "baseline": "middle", "fontSize": 10.5, "color": "#222222"},
                "encoding": {
                  "x": {"datum": "HR (95% CI)", "type": "nominal", "bandPosition": 0.5, "scale": {"type": "band", "domain": ["HR (95% CI)"], "range": [449.8, 548], "paddingInner": 0, "paddingOuter": 0}, "axis": null},
                  "y": {"field": "row", "type": "nominal", "scale": {"type": "band", "domain": ["r01","r02","r03","r04","r05","r06","r07","r08","r09","r10","r11","r12","r13","r14","r15","r16","r17","r18"], "range": [38.2, 425.8], "paddingInner": 0, "paddingOuter": 0}, "axis": null},
                  "text": {"field": "ci"}
                }
              },
              {
                "data": {"name": "favours_noac"},
                "transform": [{"fold": ["line1", "line2"], "as": ["line", "text"]}],
                "mark": {"type": "text", "baseline": "middle", "fontSize": 10.5, "fontWeight": "bold", "color": "#1a1a1a", "align": {"expr": "datum.to < datum.from ? 'right' : 'left'"}},
                "encoding": {
                  "x": {"field": "from", "type": "quantitative", "scale": {"type": "log", "base": 2, "domain": [0.1006, 2], "range": [224.8, 438.4], "nice": false, "zero": false}, "axis": null},
                  "y": {"field": "line", "type": "nominal", "scale": {"type": "point", "domain": ["arrow", "line1", "line2"], "range": [459.4, 488.7], "padding": 0}, "axis": null},
                  "text": {"field": "text"}
                }
              },
              {
                "data": {"name": "favours_noac"},
                "layer": [
                  {"mark": {"type": "rule", "color": "#1a1a1a", "strokeWidth": 1.1},
                   "encoding": {
                     "x": {"field": "from", "type": "quantitative", "scale": {"type": "log", "base": 2, "domain": [0.1006, 2], "range": [224.8, 438.4], "nice": false, "zero": false}, "axis": null},
                     "x2": {"field": "to"},
                     "y": {"datum": "arrow", "type": "nominal", "scale": {"type": "point", "domain": ["arrow", "line1", "line2"], "range": [459.4, 488.7], "padding": 0}, "axis": null}}},
                  {"mark": {"type": "point", "filled": true, "size": 40, "color": "#1a1a1a", "opacity": 1, "shape": {"expr": "datum.to < datum.from ? 'triangle-left' : 'triangle-right'"}},
                   "encoding": {
                     "x": {"field": "to", "type": "quantitative", "scale": {"type": "log", "base": 2, "domain": [0.1006, 2], "range": [224.8, 438.4], "nice": false, "zero": false}, "axis": null},
                     "y": {"datum": "arrow", "type": "nominal", "scale": {"type": "point", "domain": ["arrow", "line1", "line2"], "range": [459.4, 488.7], "padding": 0}, "axis": null}}}
                ]
              }
            ]
          },
          {
            "width": 556, "height": 225,
            "resolve": {"scale": {"x": "independent", "y": "independent"}, "axis": {"x": "independent", "y": "independent"}},
            "layer": [
              {
                "data": {"name": "table_parts"},
                "mark": {"type": "rect", "fill": "#9d0052"},
                "encoding": {
                  "x": {"field": "part", "type": "nominal", "scale": {"type": "band", "domain": ["title bar"], "range": [8, 548], "paddingInner": 0, "paddingOuter": 0}, "axis": null},
                  "y": {"field": "part", "type": "nominal", "scale": {"type": "band", "domain": ["title bar"], "range": [7, 67.7], "paddingInner": 0, "paddingOuter": 0}, "axis": null}
                }
              },
              {
                "data": {"name": "underline"},
                "mark": {"type": "rect", "fill": "#ee86b4"},
                "encoding": {
                  "x": {"field": "part", "type": "nominal", "scale": {"type": "band", "domain": ["column group rule"], "range": [158, 314], "paddingInner": 0, "paddingOuter": 0}, "axis": null},
                  "y": {"field": "part", "type": "nominal", "scale": {"type": "band", "domain": ["column group rule"], "range": [36.3, 37.9], "paddingInner": 0, "paddingOuter": 0}, "axis": null}
                }
              },
              {
                "data": {"name": "riva_warf"},
                "transform": [{"filter": "datum.row == 'AKI'"}],
                "mark": {"type": "rect", "fill": "#f3c9d9"},
                "encoding": {
                  "x": {"datum": "Outcome", "type": "nominal", "scale": {"type": "band", "domain": ["Outcome"], "range": [8, 315.9], "paddingInner": 0, "paddingOuter": 0}, "axis": null},
                  "y": {"field": "row", "type": "nominal", "scale": {"type": "band", "domain": ["AKI", "Stage 5 CKD or haemodialysis"], "range": [67.5, 112.1], "paddingInner": 0, "paddingOuter": 0}, "axis": null}
                }
              },
              {
                "data": {"name": "riva_warf"},
                "transform": [{"filter": "datum.row == 'AKI'"}],
                "mark": {"type": "rect", "fill": "#f3c9d9"},
                "encoding": {
                  "x": {"datum": "HR (95% CI)", "type": "nominal", "scale": {"type": "band", "domain": ["HR (95% CI)"], "range": [460.5, 548], "paddingInner": 0, "paddingOuter": 0}, "axis": null},
                  "y": {"field": "row", "type": "nominal", "scale": {"type": "band", "domain": ["AKI", "Stage 5 CKD or haemodialysis"], "range": [67.5, 112.1], "paddingInner": 0, "paddingOuter": 0}, "axis": null}
                }
              },
              {
                "data": {"name": "riva_warf"},
                "mark": {"type": "text", "align": "left", "baseline": "middle", "fontSize": 10.5, "color": "#222222"},
                "encoding": {
                  "x": {"datum": "Outcome", "type": "nominal", "bandPosition": 0.0227, "scale": {"type": "band", "domain": ["Outcome"], "range": [8, 315.9], "paddingInner": 0, "paddingOuter": 0}, "axis": null},
                  "y": {"field": "row", "type": "nominal", "scale": {"type": "band", "domain": ["AKI", "Stage 5 CKD or haemodialysis"], "range": [67.5, 112.1], "paddingInner": 0, "paddingOuter": 0}, "axis": null},
                  "text": {"field": "label"}
                }
              },
              {
                "data": {"name": "riva_warf"},
                "transform": [{"fold": ["Rivaroxaban", "Warfarin"], "as": ["arm", "rate"]}],
                "mark": {"type": "text", "align": "center", "baseline": "middle", "fontSize": 10.5, "color": "#222222"},
                "encoding": {
                  "x": {"field": "arm", "type": "nominal", "scale": {"type": "band", "domain": ["Rivaroxaban", "Warfarin"], "range": [170, 314], "paddingInner": 0, "paddingOuter": 0}, "axis": null},
                  "y": {"field": "row", "type": "nominal", "scale": {"type": "band", "domain": ["AKI", "Stage 5 CKD or haemodialysis"], "range": [67.5, 112.1], "paddingInner": 0, "paddingOuter": 0}, "axis": null},
                  "text": {"field": "rate", "type": "quantitative", "format": ".2f"}
                }
              },
              {
                "data": {"name": "ref1"},
                "mark": {"type": "rule", "strokeDash": [3, 2], "strokeWidth": 1.3, "color": "#111111"},
                "encoding": {
                  "x": {"field": "hr", "type": "quantitative", "scale": {"type": "log", "base": 2, "domain": [0.5, 2], "range": [319.4, 456.9], "nice": false, "zero": false},
                    "axis": {"orient": "bottom", "offset": -105.6, "values": [0.5, 1, 2], "format": "~g", "labelFontSize": 10.5, "tickSize": 5, "labelPadding": 5, "title": null, "domainWidth": 1.5, "tickWidth": 1.5}},
                  "y": {"datum": 0, "type": "quantitative", "scale": {"domain": [0, 1], "range": [68.7, 119.4], "nice": false, "zero": false}, "axis": null},
                  "y2": {"datum": 1}
                }
              },
              {
                "data": {"name": "riva_warf"},
                "mark": {"type": "rule", "strokeWidth": 1.5, "color": "#b43a70"},
                "encoding": {
                  "x": {"field": "lo", "type": "quantitative", "scale": {"type": "log", "base": 2, "domain": [0.5, 2], "range": [319.4, 456.9], "nice": false, "zero": false}, "axis": null},
                  "x2": {"field": "hi"},
                  "y": {"field": "row", "type": "nominal", "scale": {"type": "band", "domain": ["AKI", "Stage 5 CKD or haemodialysis"], "range": [67.5, 112.1], "paddingInner": 0, "paddingOuter": 0}, "axis": null}
                }
              },
              {
                "data": {"name": "riva_warf"},
                "transform": [{"fold": ["lo", "hi"], "as": ["bound", "value"]}],
                "mark": {"type": "tick", "orient": "vertical", "size": 8, "thickness": 1.5, "color": "#b43a70", "opacity": 1},
                "encoding": {
                  "x": {"field": "value", "type": "quantitative", "scale": {"type": "log", "base": 2, "domain": [0.5, 2], "range": [319.4, 456.9], "nice": false, "zero": false}, "axis": null},
                  "y": {"field": "row", "type": "nominal", "scale": {"type": "band", "domain": ["AKI", "Stage 5 CKD or haemodialysis"], "range": [67.5, 112.1], "paddingInner": 0, "paddingOuter": 0}, "axis": null}
                }
              },
              {
                "data": {"name": "riva_warf"},
                "mark": {"type": "point", "shape": "diamond", "filled": true, "size": 120, "color": "#990c52", "opacity": 1},
                "encoding": {
                  "x": {"field": "hr", "type": "quantitative", "scale": {"type": "log", "base": 2, "domain": [0.5, 2], "range": [319.4, 456.9], "nice": false, "zero": false}, "axis": null},
                  "y": {"field": "row", "type": "nominal", "scale": {"type": "band", "domain": ["AKI", "Stage 5 CKD or haemodialysis"], "range": [67.5, 112.1], "paddingInner": 0, "paddingOuter": 0}, "axis": null}
                }
              },
              {
                "data": {"name": "riva_warf"},
                "mark": {"type": "text", "align": "right", "baseline": "middle", "fontSize": 10.5, "color": "#222222"},
                "encoding": {
                  "x": {"datum": "HR (95% CI)", "type": "nominal", "bandPosition": 0.938, "scale": {"type": "band", "domain": ["HR (95% CI)"], "range": [460.5, 548], "paddingInner": 0, "paddingOuter": 0},
                    "axis": {"orient": "bottom", "domain": false, "ticks": false, "labels": false,
                      "title": ["AKI: acute kidney injury; CI: confidence interval; CKD: chronic kidney disease; NVAF: non-valvular atrial fibrillation;", "PY: patient-years"],
                      "titleX": 7, "titleY": -22, "titleAlign": "left", "titleAngle": 0, "titleBaseline": "alphabetic", "titleFontWeight": "normal", "titleFontSize": 10.6, "titleLineHeight": 13.5, "titleColor": "#222222"}},
                  "y": {"field": "row", "type": "nominal", "scale": {"type": "band", "domain": ["AKI", "Stage 5 CKD or haemodialysis"], "range": [67.5, 112.1], "paddingInner": 0, "paddingOuter": 0}, "axis": null},
                  "text": {"field": "ci"}
                }
              },
              {
                "data": {"name": "favours_warf"},
                "transform": [{"fold": ["line1", "line2"], "as": ["line", "text"]}],
                "mark": {"type": "text", "baseline": "middle", "fontSize": 10.5, "fontWeight": "bold", "color": "#1a1a1a", "align": {"expr": "datum.to < datum.from ? 'right' : 'left'"}},
                "encoding": {
                  "x": {"field": "from", "type": "quantitative", "scale": {"type": "log", "base": 2, "domain": [0.5, 2], "range": [319.4, 456.9], "nice": false, "zero": false}, "axis": null},
                  "y": {"field": "line", "type": "nominal", "scale": {"type": "point", "domain": ["arrow", "line1", "line2"], "range": [151, 180.4], "padding": 0}, "axis": null},
                  "text": {"field": "text"}
                }
              },
              {
                "data": {"name": "favours_warf"},
                "layer": [
                  {"mark": {"type": "rule", "color": "#1a1a1a", "strokeWidth": 1.1},
                   "encoding": {
                     "x": {"field": "from", "type": "quantitative", "scale": {"type": "log", "base": 2, "domain": [0.5, 2], "range": [319.4, 456.9], "nice": false, "zero": false}, "axis": null},
                     "x2": {"field": "to"},
                     "y": {"datum": "arrow", "type": "nominal", "scale": {"type": "point", "domain": ["arrow", "line1", "line2"], "range": [151, 180.4], "padding": 0}, "axis": null}}},
                  {"mark": {"type": "point", "filled": true, "size": 40, "color": "#1a1a1a", "opacity": 1, "shape": {"expr": "datum.to < datum.from ? 'triangle-left' : 'triangle-right'"}},
                   "encoding": {
                     "x": {"field": "to", "type": "quantitative", "scale": {"type": "log", "base": 2, "domain": [0.5, 2], "range": [319.4, 456.9], "nice": false, "zero": false}, "axis": null},
                     "y": {"datum": "arrow", "type": "nominal", "scale": {"type": "point", "domain": ["arrow", "line1", "line2"], "range": [151, 180.4], "padding": 0}, "axis": null}}}
                ]
              }
            ]
          }
        ],
        "spacing": 69
      }
    ],
    "spacing": 36
  }
]
}
